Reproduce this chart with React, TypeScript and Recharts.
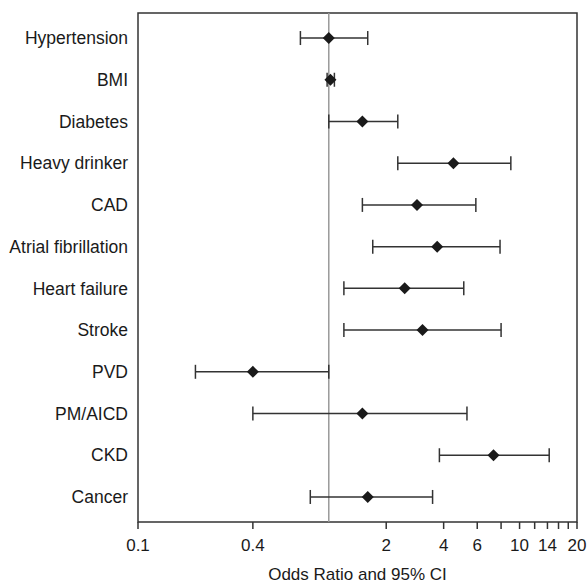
import React from 'react';
import {
  ScatterChart,
  Scatter,
  XAxis,
  YAxis,
  ErrorBar,
  ReferenceLine,
  ReferenceArea,
} from 'recharts';

const categories = [
  'Hypertension',
  'BMI',
  'Diabetes',
  'Heavy drinker',
  'CAD',
  'Atrial fibrillation',
  'Heart failure',
  'Stroke',
  'PVD',
  'PM/AICD',
  'CKD',
  'Cancer',
];
const oddsRatio = [1.0, 1.02, 1.5, 4.5, 2.9, 3.7, 2.5, 3.1, 0.4, 1.5, 7.3, 1.6];
const ciLow = [0.71, 0.98, 1.0, 2.3, 1.5, 1.7, 1.2, 1.2, 0.2, 0.4, 3.8, 0.8];
const ciHigh = [1.6, 1.07, 2.3, 9.0, 5.9, 7.9, 5.1, 8.0, 1.0, 5.3, 14.3, 3.5];

const xTicks = [0.1, 0.4, 2, 4, 6, 8, 10, 12, 14, 16, 18, 20];
const xLabels = [0.1, 0.4, 2, 4, 6, 10, 14, 20];

const rows = categories.map((name, i) => ({
  name,
  row: i + 1,
  or: oddsRatio[i],
  err: [oddsRatio[i] - ciLow[i], ciHigh[i] - oddsRatio[i]],
}));

const font = 'Liberation Sans, Arial, Helvetica, sans-serif';

// filled diamond marker centred on the point
const Diamond = (props: any) => {
  const { cx, cy } = props;
  if (cx == null || cy == null) return null;
  const r = 6;
  return (
    <polygon
      points={`${cx},${cy - r} ${cx + r},${cy} ${cx},${cy + r} ${cx - r},${cy}`}
      fill="#1a1a1a"
    />
  );
};

const App: React.FC = () => {
  return (
    <>
      {/* chart uses the full window, so drop the default body margin */}
      <style>{'body{margin:0}'}</style>
      <ScatterChart
        width={588}
        height={585}
        margin={{ top: 13, right: 11, bottom: 0, left: 0 }}
        style={{ fontFamily: font }}
      >
        <XAxis
          type="number"
          dataKey="or"
          scale="log"
          domain={[0.1, 20]}
          allowDataOverflow
          ticks={xTicks}
          interval={0}
          tickFormatter={(v: number) => (xLabels.includes(v) ? String(v) : '')}
          axisLine={false}
          tickLine={{ stroke: '#333', strokeWidth: 1.5 }}
          tickSize={7}
          tickMargin={10}
          height={63}
          tick={{ fill: '#1a1a1a', fontSize: 17 }}
          label={{
            value: 'Odds Ratio and 95% CI',
            position: 'insideBottom',
            offset: 5,
            fill: '#1a1a1a',
            fontSize: 17,
          }}
        />
        <YAxis
          type="number"
          dataKey="row"
          domain={[0.4, 12.6]}
          allowDataOverflow
          reversed
          ticks={rows.map((r) => r.row)}
          interval={0}
          tickFormatter={(v: number) => categories[v - 1] ?? ''}
          axisLine={false}
          tickLine={false}
          tickSize={0}
          tickMargin={10}
          width={138}
          tick={{ fill: '#1a1a1a', fontSize: 17.5 }}
        />
        <ReferenceArea
          x1={0.1}
          x2={20}
          y1={0.4}
          y2={12.6}
          fill="none"
          fillOpacity={0}
          stroke="#333"
          strokeWidth={1.5}
        />
        <ReferenceLine x={1} stroke="#999" strokeWidth={1.5} />
        <Scatter data={rows} shape={<Diamond />} isAnimationActive={false}>
          <ErrorBar
            dataKey="err"
            direction="x"
            width={7}
            stroke="#333"
            strokeWidth={1.5}
            isAnimationActive={false}
          />
        </Scatter>
      </ScatterChart>
    </>
  );
};

export default App;
